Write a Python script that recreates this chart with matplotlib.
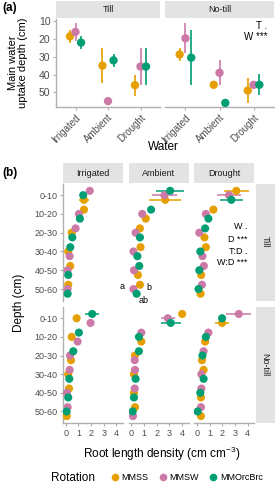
import numpy as np
import matplotlib.pyplot as plt
from matplotlib.lines import Line2D
from matplotlib.transforms import ScaledTranslation

plt.rcParams['font.family'] = ['Liberation Sans', 'DejaVu Sans']
plt.rcParams['mathtext.default'] = 'regular'

# ---------------- data ----------------
rotations = ['MMSS', 'MMSW', 'MMOrcBrc']
colors = ['#E69F00', '#CC79A7', '#009E73']
water = ['Irrigated', 'Ambient', 'Drought']
depths = ['0-10', '10-20', '20-30', '30-40', '40-50', '50-60']

# (a) main water uptake depth (cm), one value per water level
mwud_till = {'MMSS': [18.5, 35, 46], 'MMSW': [16, 55, 35.5], 'MMOrcBrc': [22, 32, 35.5]}
mwud_till_err = {'MMSS': [3.5, 10, 6], 'MMSW': [5, 0, 10.5], 'MMOrcBrc': [3.5, 3.5, 10.5]}
mwud_nt = {'MMSS': [28.7, 45.8, 49], 'MMSW': [19.6, 39, 45.8], 'MMOrcBrc': [30.5, 56, 45.8]}
mwud_nt_err = {'MMSS': [3.5, 0, 7], 'MMSW': [8.5, 7, 0], 'MMOrcBrc': [15.5, 0, 6]}

# (b) root length density (cm cm-3), one value per depth
till_irr = {'MMSS': [1.44, 1.44, 0.47, 0.20, 0.36, 0.20],
            'MMSW': [1.90, 1.04, 0.78, 0.31, 0.15, 0.15],
            'MMOrcBrc': [1.38, 1.12, 0.52, 0.36, 0.20, 0.15]}
till_amb = {'MMSS': [2.66, 1.13, 0.67, 0.72, 0.51, 0.67],
            'MMSW': [2.60, 0.85, 0.33, 0.16, 0.20, 0.16],
            'MMOrcBrc': [3.05, 1.55, 0.67, 0.47, 0.62, 0.41]}
till_dro = {'MMSS': [3.10, 1.29, 0.59, 0.70, 0.33, 0.28],
            'MMSW': [2.53, 0.70, 0.18, 0.43, 0.54, 0.39],
            'MMOrcBrc': [2.71, 0.90, 0.64, 0.26, 0.18, 0.12]}
nt_irr = {'MMSS': [0.86, 0.47, 0.42, 0.20, 0.26, 0.08],
          'MMSW': [1.96, 0.94, 0.34, 0.31, 0.10, 0.15],
          'MMOrcBrc': [2.09, 1.04, 0.60, 0.28, 0.20, 0.07]}
nt_amb = {'MMSS': [4.00, 0.78, 0.28, 0.20, 0.20, 0.28],
          'MMSW': [2.87, 0.78, 0.26, 0.28, 0.26, 0.12],
          'MMOrcBrc': [3.10, 0.59, 0.59, 0.33, 0.20, 0.10]}
nt_dro = {'MMSS': [1.98, 0.64, 0.39, 0.52, 0.31, 0.31],
          'MMSW': [3.30, 0.90, 0.52, 0.34, 0.34, 0.31],
          'MMOrcBrc': [1.98, 0.70, 0.43, 0.52, 0.26, 0.05]}

# error (se) at the 0-10 layer, order MMSS, MMSW, MMOrcBrc
till_irr_err = [0.39, 0, 0]
till_amb_err = [1.25, 1.0, 1.1]
till_dro_err = [1.0, 0.97, 0.9]
nt_irr_err = [0, 0.3, 0.53]
nt_amb_err = [0, 0.53, 0.78]
nt_dro_err = [0.58, 1.0, 0.25]

# jitter order within each depth, top to bottom (S=MMSS, W=MMSW, O=MMOrcBrc)
till_irr_order = ['WOS', 'SWO', 'WSO', 'OSW', 'SWO', 'SWO']
till_amb_order = ['OWS', 'OWS', 'SWO', 'SWO', 'OWS', 'SWO']
till_dro_order = ['SWO', 'SWO', 'OWS', 'SOW', 'WOS', 'WOS']
nt_irr_order = ['OSW', 'OSW', 'OWS', 'WSO', 'SWO', 'WOS']
nt_amb_order = ['SWO', 'WOS', 'OSW', 'WSO', 'WSO', 'SOW']
nt_dro_order = ['WOS', 'WOS', 'WOS', 'SWO', 'WOS', 'WOS']

# ---------------- figure ----------------
W, H = 275, 483
fig = plt.figure(figsize=(W / 100, H / 100), dpi=100)
AXC = '#B0B0B0'
TXC = '#4D4D4D'
STRIP = '#E3E3E3'


def px_axes(x0, y0, x1, y1):
    return fig.add_axes([x0 / W, 1 - y1 / H, (x1 - x0) / W, (y1 - y0) / H])


def style(ax, left=True, bottom=True):
    for s in ax.spines.values():
        s.set_visible(False)
    ax.spines['left'].set_visible(left)
    ax.spines['bottom'].set_visible(bottom)
    ax.spines['left'].set_color(AXC)
    ax.spines['bottom'].set_color(AXC)
    ax.spines['left'].set_linewidth(1.0)
    ax.spines['bottom'].set_linewidth(1.0)
    ax.tick_params(colors=AXC, labelcolor=TXC, length=2.5, width=0.8, pad=1.5)
    ax.tick_params(axis='y', left=left, labelleft=left)
    ax.tick_params(axis='x', bottom=bottom, labelbottom=bottom)
    ax.set_facecolor('none')


def strip(x0, y0, x1, y1, text, rot=0):
    s = px_axes(x0, y0, x1, y1)
    s.set_facecolor(STRIP)
    s.set_xticks([])
    s.set_yticks([])
    for sp in s.spines.values():
        sp.set_visible(False)
    s.text(0.5, 0.5, text, ha='center', va='center', rotation=rot, fontsize=6.5,
           color='#1A1A1A', transform=s.transAxes)


# ---------- panel (a) ----------
dodge = [-0.17, 0, 0.17]
for k, (x0, x1, vals, errs, name) in enumerate([(56, 160, mwud_till, mwud_till_err, 'Till'),
                                                (165, 274, mwud_nt, mwud_nt_err, 'No-till')]):
    ax = px_axes(x0, 19, x1, 107)
    strip(x0, 1, x1, 18, name)
    for j, rot in enumerate(rotations):
        x = np.arange(3) + dodge[j]
        ax.errorbar(x, vals[rot], yerr=errs[rot], fmt='none', ecolor=colors[j], elinewidth=1.2)
        ax.scatter(x, vals[rot], s=36, color=colors[j], edgecolors='none', zorder=3)
    ax.set_xlim(-0.6, 2.6)
    ax.set_ylim(58.3, 8.7)
    ax.set_yticks([10, 20, 30, 40, 50])
    ax.set_xticks(range(3))
    ax.set_xticklabels(water, rotation=45, ha='right', va='top', rotation_mode='anchor', fontsize=7)
    shift = ScaledTranslation(9 / 100, 0, fig.dpi_scale_trans)
    for lab in ax.get_xticklabels():
        lab.set_transform(lab.get_transform() + shift)
    ax.tick_params(axis='y', labelsize=7.5)
    style(ax, left=(k == 0), bottom=True)
    if k == 1:
        ax.text(0.94, 0.92, 'T .', transform=ax.transAxes, ha='right', va='center', fontsize=7)
        ax.text(0.94, 0.80, 'W ***', transform=ax.transAxes, ha='right', va='center', fontsize=7)

fig.text(2 / W, 1 - 8 / H, '(a)', fontsize=8.5, fontweight='bold', va='center')
fig.text(18 / W, 1 - 63 / H, 'Main water\nuptake depth (cm)', rotation=90, ha='center', va='center',
         fontsize=8, linespacing=1.0)
fig.text(163 / W, 1 - 147 / H, 'Water', ha='center', va='center', fontsize=8.5)

# ---------- panel (b) ----------
fig.text(2 / W, 1 - 173 / H, '(b)', fontsize=8.5, fontweight='bold', va='center')
cols = [(63, 122.7), (128.7, 188.5), (194.3, 254)]
rows = [(183.5, 300.7), (306.7, 423)]
facets = [[(till_irr, till_irr_err, till_irr_order), (till_amb, till_amb_err, till_amb_order),
           (till_dro, till_dro_err, till_dro_order)],
          [(nt_irr, nt_irr_err, nt_irr_order), (nt_amb, nt_amb_err, nt_amb_order),
           (nt_dro, nt_dro_err, nt_dro_order)]]
slot_off = [-0.23, 0.0, 0.25]
code = {'S': 'MMSS', 'W': 'MMSW', 'O': 'MMOrcBrc'}
ypos = np.arange(len(depths))
axes_b = {}
for r, (y0, y1) in enumerate(rows):
    for c, (x0, x1) in enumerate(cols):
        ax = px_axes(x0, y0, x1, y1)
        axes_b[(r, c)] = ax
        vals, err0, order = facets[r][c]
        ys = {}
        for rot in rotations:
            ys[rot] = np.array([ypos[d] + slot_off[[code[ch] for ch in order[d]].index(rot)]
                                for d in range(len(depths))])
        for j, rot in enumerate(rotations):
            xe = np.zeros(len(depths))
            xe[0] = err0[j]
            ax.errorbar(vals[rot], ys[rot], xerr=xe, fmt='none', ecolor=colors[j], elinewidth=1.1)
        for j, rot in enumerate(rotations):
            ax.scatter(vals[rot], ys[rot], s=34, color=colors[j], edgecolors='none', zorder=3)
        ax.set_xlim(-0.215, 4.5)
        ax.set_ylim(5.62, -0.62)
        ax.set_yticks(ypos)
        ax.set_yticklabels(depths, fontsize=6.5)
        ax.set_xticks([0, 1, 2, 3, 4])
        ax.tick_params(axis='x', labelsize=6.5)
        style(ax, left=(c == 0), bottom=(r == 1))
        if r == 0:
            strip(x0, 163.3, x1, 183.3, water[c])
    strip(255.5, y0, 274.5, y1, ['Till', 'No-till'][r], rot=-90)

# letters and model terms
ax = axes_b[(0, 1)]
ax.text(-0.7, 4.88, 'a', fontsize=6.5, ha='center', va='center', clip_on=False)
ax.text(1.36, 4.92, 'b', fontsize=6.5, ha='center', va='center', clip_on=False)
ax.text(0.98, 5.62, 'ab', fontsize=6.5, ha='center', va='center', clip_on=False)
ax = axes_b[(0, 2)]
for yv, t in zip([1.68, 2.38, 3.0, 3.61], ['W .', 'D ***', 'T:D .', 'W:D ***']):
    ax.text(4.0, yv, t, fontsize=6.5, ha='right', va='center')

fig.text(19 / W, 1 - 303 / H, 'Depth (cm)', rotation=90, ha='center', va='center', fontsize=8.5)
fig.text(162 / W, 1 - 454 / H, 'Root length density (cm cm$^{-3}$)', ha='center', va='center', fontsize=8.5)

# legend
fig.text(51 / W, 1 - 478 / H, 'Rotation', ha='left', va='center', fontsize=8.5)
handles = [Line2D([], [], marker='o', linestyle='none', markersize=5.5, color=c, markeredgewidth=0)
           for c in colors]
fig.legend(handles, rotations, loc='center left', bbox_to_anchor=(110 / W, 1 - 478 / H), ncol=3,
           frameon=False, fontsize=6.5, handletextpad=0.1, columnspacing=1.0, handlelength=1.2,
           borderpad=0, borderaxespad=0)

fig.savefig('out.png', dpi=100)
